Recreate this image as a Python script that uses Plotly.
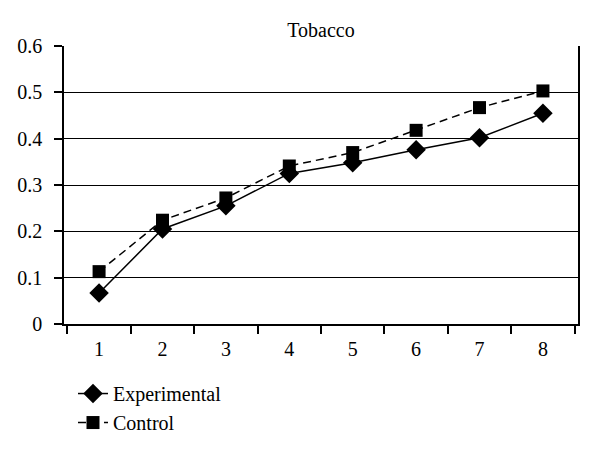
import plotly.graph_objects as go

categories = ["1", "2", "3", "4", "5", "6", "7", "8"]
experimental = [0.067, 0.205, 0.255, 0.325, 0.348, 0.376, 0.402, 0.455]
control = [0.113, 0.224, 0.272, 0.341, 0.370, 0.418, 0.467, 0.503]
yticks = [0, 0.1, 0.2, 0.3, 0.4, 0.5, 0.6]
ytick_labels = ["0", "0.1", "0.2", "0.3", "0.4", "0.5", "0.6"]

FONT = "Liberation Serif"

fig = go.Figure()
fig.add_trace(go.Scatter(
    x=categories, y=experimental, name="Experimental", mode="lines+markers",
    line=dict(color="black", width=1.5, dash="solid"),
    marker=dict(symbol="diamond", size=15, color="black"),
    legendgroup="e",
))
fig.add_trace(go.Scatter(
    x=categories, y=control, name="Control", mode="lines+markers",
    line=dict(color="black", width=1.5, dash="8px,5px"),
    marker=dict(symbol="square", size=13, color="black"),
    legendgroup="c",
))

fig.update_layout(
    width=600, height=455,
    margin=dict(l=64, r=22, t=46, b=131),
    paper_bgcolor="white", plot_bgcolor="white",
    font=dict(family=FONT, size=20, color="black"),
    title=dict(text="Tobacco", x=0.535, xanchor="center", y=0.935, yanchor="middle",
               font=dict(family=FONT, size=20, color="black")),
    showlegend=True,
    legend=dict(x=0.0175, xanchor="left", y=-0.18, yanchor="top",
                traceorder="grouped", tracegroupgap=0,
                font=dict(family=FONT, size=20, color="black"),
                itemwidth=30, bgcolor="rgba(0,0,0,0)"),
)
fig.update_xaxes(
    type="category", tickson="boundaries", ticks="outside", ticklen=8,
    tickwidth=1.5, tickcolor="black",
    showline=True, linecolor="black", linewidth=1.5,
    showgrid=False, zeroline=False, ticklabelstandoff=6,
    tickfont=dict(family=FONT, size=20, color="black"),
)
fig.update_yaxes(
    range=[0, 0.6], tickvals=yticks, ticktext=ytick_labels,
    ticks="outside", ticklen=8, tickwidth=1.5, tickcolor="black",
    showline=True, linecolor="black", linewidth=1.5, mirror=True,
    showgrid=True, gridcolor="black", gridwidth=1.1,
    zeroline=False, ticklabelstandoff=8,
    tickfont=dict(family=FONT, size=20, color="black"),
)

fig.write_html("out.html", config={"displayModeBar": False},
               post_script="document.body.style.margin='0';")
